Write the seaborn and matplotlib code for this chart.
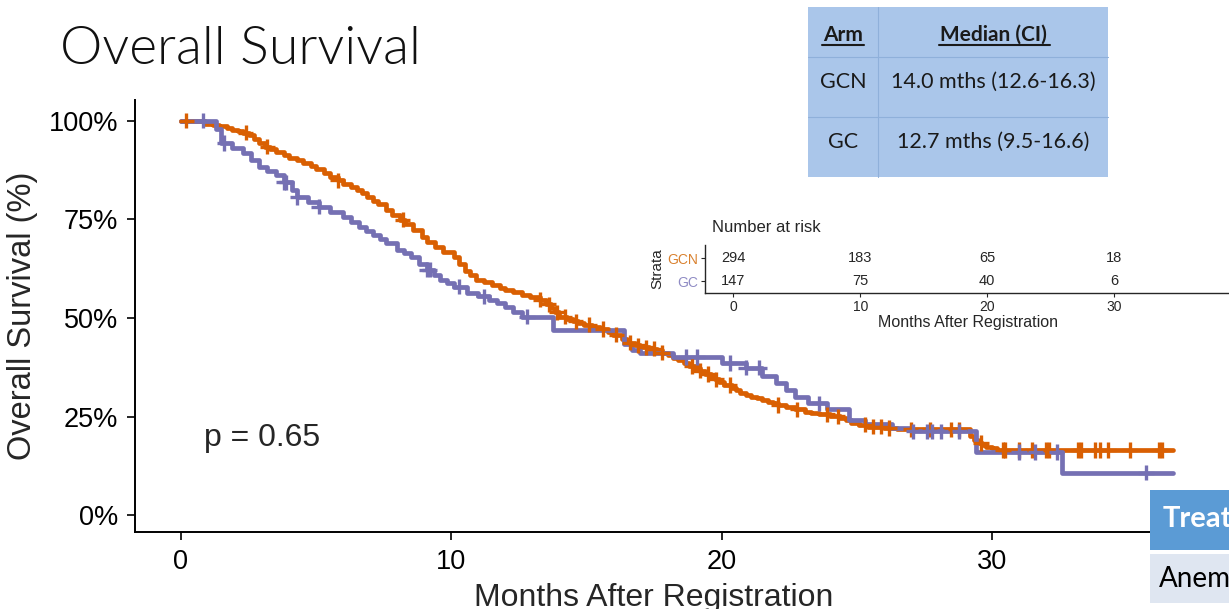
import numpy as np
import pandas as pd
import matplotlib
matplotlib.use("Agg")
import matplotlib.pyplot as plt
import seaborn as sns
from matplotlib.patches import Rectangle

# Kaplan-Meier step data (months, survival %) for each arm
gcn_times = [0, 0.9, 1.2, 1.4, 1.7, 1.9, 2.1, 2.3, 2.5, 2.7, 2.9, 3.1, 3.3, 3.5, 3.8, 4.0,
             4.3, 4.5, 4.8, 5.0, 5.3, 5.5, 5.8, 6.0, 6.3, 6.5, 6.7, 6.9, 7.1, 7.3, 7.6,
             7.8, 8.1, 8.3, 8.6, 8.9, 9.1, 9.4, 9.7, 10.1, 10.3, 10.5, 10.7, 10.9, 11.2,
             11.5, 11.8, 12.0, 12.3, 12.6, 12.9, 13.3, 13.5, 13.7, 13.85, 14.0, 14.3,
             14.5, 14.7, 14.9, 15.2, 15.5, 15.8, 16.0, 16.3, 16.5, 16.8, 17.0, 17.3, 17.6,
             17.8, 18.0, 18.2, 18.4, 18.6, 18.8, 19.0, 19.2, 19.4, 19.6, 19.75, 19.9, 20.1,
             20.4, 20.55, 20.7, 20.9, 21.1, 21.3, 21.5, 21.7, 21.9, 22.1, 22.4, 22.7, 23.1,
             23.3, 23.6, 24.0, 24.4, 24.6, 24.8, 25.1, 25.4, 26.0, 26.5, 29.2, 29.35, 29.5,
             29.65, 29.8, 30.0, 30.2]
gcn_surv = [100, 99.3, 98.9, 98.6, 98.2, 97.8, 97.4, 97.0, 96.3, 95.5, 94.5, 93.5, 92.8,
            92.0, 91.3, 90.6, 90.0, 89.3, 88.5, 87.8, 86.8, 85.8, 84.9, 84.0, 83.2, 82.5,
            81.6, 80.7, 79.8, 78.8, 77.4, 76.0, 74.9, 73.8, 72.2, 70.6, 69.3, 68.0, 66.8,
            65.5, 63.8, 62.0, 60.8, 59.6, 59.0, 58.3, 57.7, 57.1, 56.5, 55.9, 55.2, 54.6,
            53.5, 52.5, 51.4, 50.3, 49.7, 49.2, 48.7, 48.3, 47.7, 47.2, 46.5, 45.8, 44.7,
            43.7, 43.1, 42.6, 42.2, 41.9, 41.2, 40.6, 39.9, 39.3, 38.5, 37.8, 37.2, 36.6,
            35.8, 35.0, 34.4, 33.8, 33.0, 32.3, 31.6, 31.0, 30.5, 30.0, 29.6, 29.2, 28.8,
            28.4, 27.9, 27.4, 26.8, 26.2, 25.9, 25.6, 25.1, 24.6, 24.0, 23.4, 22.9, 22.4,
            22.1, 21.8, 20.0, 19.1, 18.3, 17.8, 17.3, 16.9, 16.5]
gcn_last_followup = 36.7
gcn_censored = [0.2, 2.4, 3.2, 5.8, 8.2, 13.3, 13.6, 13.9, 14.2, 14.6, 15.1, 15.6, 16.1,
                16.6, 16.9, 17.2, 17.5, 17.8, 18.9, 19.2, 19.5, 19.8, 20.3, 22.1, 22.8,
                23.9, 24.3, 25.3, 25.6, 25.9, 26.2, 27.0, 27.7, 28.5, 28.8, 29.6, 30.4,
                30.5, 31.0, 31.5, 32.0, 32.1, 33.2, 33.3, 33.8, 34.0, 34.3, 35.1, 36.2,
                36.3]

gc_times = [0, 1.3, 1.5, 1.9, 2.3, 2.6, 2.9, 3.2, 3.5, 3.8, 4.1, 4.3, 4.7, 5.1, 5.5, 6.0,
            6.3, 6.6, 6.85, 7.1, 7.35, 7.6, 8.0, 8.25, 8.5, 8.8, 9.1, 9.35, 9.6, 9.85,
            10.1, 10.6, 11.0, 11.4, 11.7, 12.0, 12.3, 12.6, 13.75, 16.4, 16.7, 17.0, 18.2,
            20.0, 20.9, 21.5, 22.0, 22.4, 22.7, 23.2, 23.9, 24.7, 25.3, 26.3, 27.0, 29.4,
            32.6]
gc_surv = [100, 98.0, 94.4, 93.2, 91.9, 90.1, 88.3, 87.3, 86.3, 84.4, 82.5, 80.7, 79.5,
           78.2, 76.9, 75.6, 74.4, 73.1, 72.0, 71.0, 70.0, 69.0, 67.3, 66.4, 65.5, 63.8,
           62.2, 60.9, 59.6, 58.8, 57.9, 56.3, 55.5, 54.6, 53.7, 52.8, 51.5, 50.3, 47.0,
           43.5, 41.9, 41.1, 40.1, 38.6, 37.4, 35.2, 33.6, 31.8, 30.0, 28.4, 26.8, 24.0,
           23.2, 22.2, 21.2, 16.0, 10.7]
gc_last_followup = 36.7
gc_censored = [0.8, 1.6, 3.8, 3.9, 4.3, 5.1, 9.1, 9.2, 10.3, 11.2, 12.8, 18.7, 19.1,
               20.3, 20.9, 21.4, 23.6, 27.1, 27.6, 27.8, 28.1, 28.8, 31.0, 31.6, 32.4,
               35.7]

arms = ["GCN", "GC"]
arm_colors = {"GCN": "#d95f02", "GC": "#7570b3"}

# Risk table
risk_times = [0, 10, 20, 30]
risk_gcn = [294, 183, 65, 18]
risk_gc = [147, 75, 40, 6]

# Median survival table
median_header = ["Arm", "Median (CI)"]
median_rows = [["GCN", "14.0 mths (12.6-16.3)"], ["GC", "12.7 mths (9.5-16.6)"]]

p_value_text = "p = 0.65"


def step_frame(arm, times, surv, last):
    t = list(times) + [last]
    s = list(surv) + [surv[-1]]
    return pd.DataFrame({"month": t, "surv": np.array(s) / 100.0, "arm": arm})


def censor_frame(arm, times, surv, cens):
    t = np.asarray(times)
    s = np.asarray(surv) / 100.0
    idx = np.searchsorted(t, cens, side="right") - 1
    return pd.DataFrame({"month": cens, "surv": s[idx], "arm": arm})


curves = pd.concat([
    step_frame("GCN", gcn_times, gcn_surv, gcn_last_followup),
    step_frame("GC", gc_times, gc_surv, gc_last_followup),
], ignore_index=True)
marks = pd.concat([
    censor_frame("GCN", gcn_times, gcn_surv, gcn_censored),
    censor_frame("GC", gc_times, gc_surv, gc_censored),
], ignore_index=True)

sns.set_style("ticks")
plt.rcParams["font.family"] = ["Liberation Sans", "DejaVu Sans"]

W, H = 1229, 609
fig = plt.figure(figsize=(W / 100, H / 100), dpi=100)


def fx(px):
    return px / W


def fy(py):
    return 1 - py / H


# ---- main survival axes ----
ax = fig.add_axes([fx(135), fy(532), fx(1200) - fx(135), fy(100) - fy(532)])
sns.lineplot(data=curves, x="month", y="surv", hue="arm", hue_order=arms,
             palette=arm_colors, drawstyle="steps-post", estimator=None, sort=False,
             linewidth=3.4, legend=False, ax=ax)
sns.scatterplot(data=marks, x="month", y="surv", hue="arm", hue_order=arms,
                palette=arm_colors, marker="+", s=120, linewidth=2.4, legend=False,
                ax=ax, zorder=3)
ax.set_xlim(-1.7, 37.7)
ax.set_ylim(-0.043, 1.053)
ax.set_xticks([0, 10, 20, 30])
ax.set_yticks([0, 0.25, 0.5, 0.75, 1.0])
ax.set_yticklabels(["0%", "25%", "50%", "75%", "100%"])
ax.tick_params(axis="both", labelsize=19.5, length=6, width=1.2, color="black",
               labelcolor="black", pad=6)
for side in ["top", "right"]:
    ax.spines[side].set_visible(False)
for side in ["left", "bottom"]:
    ax.spines[side].set_linewidth(1.4)
    ax.spines[side].set_color("black")
ax.set_xlabel("Months After Registration", fontsize=23)
ax.xaxis.set_label_coords(0.487, -0.118)
ax.set_ylabel("Overall Survival (%)", fontsize=23.5, labelpad=8)
ax.text(0.85, 0.195, p_value_text, fontsize=23, va="center", ha="left")

# ---- number-at-risk inset ----
rax = fig.add_axes([fx(705), fy(293), fx(1232) - fx(705), fy(245) - fy(293)])
rax.set_xlim(-2.24, 39.3)
rax.set_ylim(-0.52, 1.57)
for t, a, b in zip(risk_times, risk_gcn, risk_gc):
    rax.text(t, 1, str(a), fontsize=10.5, ha="center", va="center")
    rax.text(t, 0, str(b), fontsize=10.5, ha="center", va="center")
rax.set_xticks(risk_times)
rax.set_yticks([1, 0])
rax.set_yticklabels(["GCN", "GC"])
for lbl, c in zip(rax.get_yticklabels(), ["#d9812f", "#8f8bc4"]):
    lbl.set_color(c)
rax.tick_params(axis="both", labelsize=10, length=3, width=0.8, pad=2)
for side in ["top", "right"]:
    rax.spines[side].set_visible(False)
rax.spines["left"].set_linewidth(1.0)
rax.spines["bottom"].set_linewidth(1.0)
rax.set_facecolor("none")
rax.set_xlabel("Months After Registration", fontsize=11.5, labelpad=1)
rax.set_ylabel("Strata", fontsize=11, labelpad=2)
fig.text(fx(712), fy(228), "Number at risk", fontsize=12, ha="left", va="center")

# ---- title ----
fig.text(fx(60), fy(50), "Overall Survival", fontsize=38.5, family="Lato",
         fontweight=300, ha="left", va="center", color="#111111")

# ---- median survival table ----
tx0, tx1, tdiv = 808, 1108, 878
ty = [7, 57, 117, 177]
fig.patches.append(Rectangle((fx(tx0), fy(ty[-1])), fx(tx1) - fx(tx0), fy(ty[0]) - fy(ty[-1]),
                             transform=fig.transFigure, facecolor="#aac6ea",
                             edgecolor="none", zorder=0))
for yy in ty[1:-1]:
    fig.add_artist(plt.Line2D([fx(tx0), fx(tx1)], [fy(yy), fy(yy)], color="#8fb0da",
                              linewidth=0.8, transform=fig.transFigure))
fig.add_artist(plt.Line2D([fx(tdiv), fx(tdiv)], [fy(ty[0]), fy(ty[-1])], color="#8fb0da",
                          linewidth=0.8, transform=fig.transFigure))
cx = [(tx0 + tdiv) / 2, (tdiv + tx1) / 2]
row_y = [82, 142]
for c, txt in zip(cx, median_header):
    fig.text(fx(c), fy(35), txt, fontsize=15, family="Lato",
             fontweight="bold", ha="center", va="center", color="#1a1a1a")
hdr_under = [(822, 864), (939, 1050)]
for a, b in hdr_under:
    fig.add_artist(plt.Line2D([fx(a), fx(b)], [fy(45), fy(45)], color="#1a1a1a",
                              linewidth=1.5, transform=fig.transFigure))
for yc, row in zip(row_y, median_rows):
    for c, txt in zip(cx, row):
        fig.text(fx(c), fy(yc), txt, fontsize=15.5, family="Lato", ha="center",
                 va="center", color="#1a1a1a")

# ---- adjacent adverse-event table at the frame edge ----
fig.patches.append(Rectangle((fx(1150), fy(550)), fx(1300) - fx(1150), fy(490) - fy(550),
                             transform=fig.transFigure, facecolor="#5b9bd5",
                             edgecolor="none", zorder=5))
fig.patches.append(Rectangle((fx(1150), fy(603)), fx(1300) - fx(1150), fy(554) - fy(603),
                             transform=fig.transFigure, facecolor="#dfe6f1",
                             edgecolor="none", zorder=5))
fig.text(fx(1163), fy(519), "Treatment", fontsize=21, family="Lato", fontweight="bold",
         color="white", ha="left", va="center", zorder=6)
fig.text(fx(1159), fy(579), "Anemia", fontsize=20, family="Lato", color="black",
         ha="left", va="center", zorder=6)

fig.savefig("out.png", dpi=100)
